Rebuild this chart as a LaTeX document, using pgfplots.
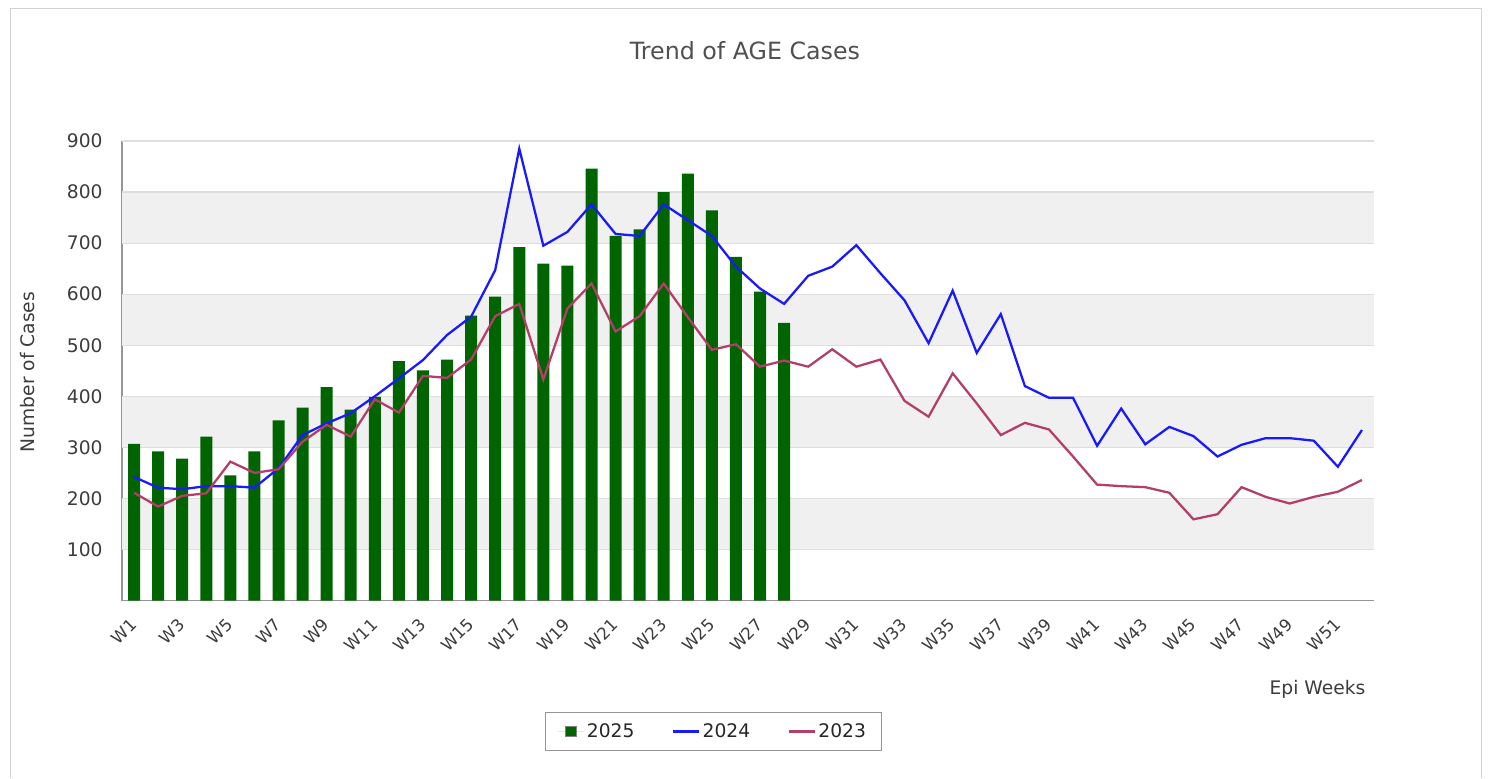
\documentclass[border=0pt]{standalone}
\usepackage{pgfplots}
\pgfplotsset{compat=1.18}
\usepackage{fontspec}
\setmainfont{DejaVu Sans}
\definecolor{bargreen}{RGB}{0,100,0}
\definecolor{line24}{RGB}{25,25,255}
\definecolor{line23}{RGB}{178,62,105}
\definecolor{band}{RGB}{240,240,240}
\definecolor{gridc}{RGB}{222,222,222}
\definecolor{axisc}{RGB}{150,150,150}
\definecolor{txt}{RGB}{60,60,60}
\definecolor{ttl}{RGB}{80,80,80}

\pgfplotstableread{
x y
0 307
1 292
2 278
3 321
4 245
5 292
6 353
7 378
8 418
9 374
10 399
11 469
12 451
13 472
14 558
15 595
16 692
17 660
18 656
19 846
20 714
21 727
22 800
23 836
24 764
25 673
26 605
27 544
}\tblA

\pgfplotstableread{
x y
0 242
1 221
2 218
3 224
4 224
5 221
6 259
7 324
8 347
9 367
10 400
11 435
12 471
13 520
14 556
15 647
16 885
17 695
18 722
19 776
20 718
21 714
22 776
23 745
24 714
25 654
26 611
27 581
28 636
29 654
30 696
31 641
32 588
33 504
34 607
35 485
36 561
37 420
38 397
39 397
40 303
41 376
42 306
43 340
44 322
45 282
46 305
47 318
48 318
49 313
50 262
51 334
}\tblB

\pgfplotstableread{
x y
0 211
1 184
2 205
3 210
4 272
5 250
6 257
7 311
8 344
9 321
10 394
11 368
12 440
13 436
14 472
15 557
16 581
17 433
18 572
19 621
20 527
21 557
22 621
23 555
24 491
25 502
26 458
27 470
28 458
29 492
30 458
31 472
32 391
33 360
34 445
35 386
36 324
37 348
38 335
39 282
40 227
41 224
42 222
43 211
44 159
45 169
46 222
47 203
48 190
49 203
50 213
51 236
}\tblC

\begin{document}
\begin{tikzpicture}[x=0.75pt,y=0.75pt]
\useasboundingbox (0,0) rectangle (1491,778);
\fill[white] (0,0) rectangle (1491,778);
\draw[gray!35, line width=0.75pt] (10,0) -- (10,769) -- (1481,769) -- (1481,0);
\node[ttl, font=\fontsize{17.8}{20}\selectfont] at (745,727) {Trend of AGE Cases};
\node[txt, font=\fontsize{14}{16}\selectfont, rotate=90] at (28,406) {Number of Cases};
\node[txt, font=\fontsize{14}{16}\selectfont, anchor=east] at (1370,89) {Epi Weeks};
\begin{axis}[
  at={(91.5pt,133.125pt)}, anchor=south west,
  scale only axis, width=939pt, height=344.6pt,
  xmin=-0.5, xmax=51.5, ymin=0, ymax=900,
  axis x line*=bottom, axis y line*=left,
  axis line style={axisc, line width=0.9pt, -},
  major tick length=0pt,
  xtick={0,2,...,50},
  xticklabels={W1,W3,W5,W7,W9,W11,W13,W15,W17,W19,W21,W23,W25,W27,W29,W31,W33,W35,W37,W39,W41,W43,W45,W47,W49,W51},
  ytick={100,200,...,900},
  /pgf/number format/assume math mode=true,
  ticklabel style={txt, font=\fontsize{14}{16}\selectfont},
  yticklabel style={xshift=-11pt},
  xticklabel style={rotate=45, anchor=east, font=\fontsize{12.5}{14}\selectfont, xshift=-8pt, yshift=-11pt},
  clip=false,
  legend columns=3,
  legend style={at={(0.4724,-0.2851)}, anchor=center, draw=axisc, line width=0.9pt,
    font=\fontsize{14}{16}\selectfont, text=black!85,
    inner xsep=9.5pt, inner ysep=6.5pt,
    /tikz/every even column/.style={column sep=26pt}},
]
\foreach \b in {100,300,500,700} {
  \edef\tmp{\noexpand\fill[band] (axis cs:-0.5,\b) rectangle (axis cs:51.5,\b+100);}
  \tmp
}
\foreach \g in {100,200,...,900} {
  \edef\tmp{\noexpand\draw[gridc, line width=0.9pt] (axis cs:-0.5,\g) -- (axis cs:51.5,\g);}
  \tmp
}
\addplot[ybar, bar width=9pt, fill=bargreen, draw=none,
  legend image code/.code={\path (0pt,0pt) -- (19.5pt,0pt); \fill[bargreen, draw=gray] (5.5pt,-4pt) rectangle (13.5pt,4pt);}]
  table[x=x,y=y] {\tblA};
\addlegendentry{2025}
\addplot[line24, line width=1.7pt, mark=none,
  legend image code/.code={\draw[line24, line width=1.7pt] (0pt,0pt) -- (19.5pt,0pt);}]
  table[x=x,y=y] {\tblB};
\addlegendentry{2024}
\addplot[line23, line width=1.7pt, mark=none,
  legend image code/.code={\draw[line23, line width=1.7pt] (0pt,0pt) -- (19.5pt,0pt);}]
  table[x=x,y=y] {\tblC};
\addlegendentry{2023}
\end{axis}
\end{tikzpicture}
\end{document}
